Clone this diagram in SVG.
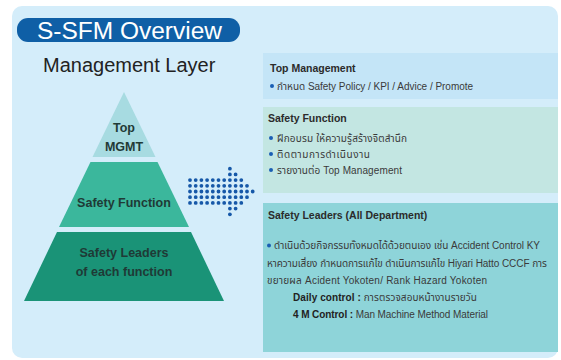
<svg xmlns="http://www.w3.org/2000/svg" width="561" height="360" viewBox="0 0 561 360">
<style>
text{font-family:"Liberation Sans","Noto Sans Thai","Noto Sans",sans-serif;}
.ttl{font-size:23px;fill:#fff;}
.sub{font-size:20px;fill:#222;}
.tier{font-size:12.5px;fill:#1f3a36;text-anchor:middle;font-weight:bold;}
.bt{font-size:10.5px;fill:#2b2b2b;font-weight:bold;}
.bd{font-size:10px;fill:#3a3a3a;}
.bl{fill:#1a5fb4;}
.dots path{stroke:#1658a8;stroke-width:3.8;stroke-linecap:round;stroke-dasharray:0 5.7;fill:none;}
</style>
<rect x="12" y="6" width="546" height="352" rx="10" fill="#d4edfa"/>
<g id="title">
<rect x="17" y="18" width="223" height="24" rx="11" fill="#0f5fa6"/>
<text class="ttl" x="37" y="38.5" textLength="185" lengthAdjust="spacingAndGlyphs">S-SFM Overview</text>
</g>
<g id="layer-label"><text class="sub" x="43" y="72">Management Layer</text></g>
<g id="tier-top">
<polygon points="124,92 155.5,157 92.5,157" fill="#a7dbe1"/>
<text class="tier" x="124" y="132">Top</text>
<text class="tier" x="124" y="151">MGMT</text>
</g>
<g id="tier-function">
<polygon points="90.5,162 157.5,162 189,227 59,227" fill="#3bb79c"/>
<text class="tier" x="124" y="207">Safety Function</text>
</g>
<g id="tier-leaders">
<polygon points="57,232 191,232 224,301 24,301" fill="#1a9377"/>
<text class="tier" x="124" y="257">Safety Leaders</text>
<text class="tier" x="124" y="276">of each function</text>
</g>
<g id="connectors" class="dots">
<path d="M229.9 168.7h0.01"/>
<path d="M229.9 174.4H235.7"/>
<path d="M190 180.1H241.4"/>
<path d="M190 185.8H247.1"/>
<path d="M190 191.5H252.8"/>
<path d="M190 197.2H247.1"/>
<path d="M190 202.9H241.4"/>
<path d="M229.9 208.6H235.7"/>
<path d="M229.9 214.3h0.01"/>
</g>
<g id="box-top">
<rect x="263" y="53" width="295" height="46" fill="#c4e5f7"/>
<text class="bt" x="270" y="72">Top Management</text>
<circle class="bl" cx="272" cy="86" r="2"/>
<text class="bd" x="277" y="89.5" textLength="196">กำหนด Safety Policy / KPI / Advice / Promote</text>
</g>
<g id="box-function">
<rect x="263" y="107" width="295" height="86" fill="#c3e6e2"/>
<text class="bt" x="268" y="122">Safety Function</text>
<circle class="bl" cx="271" cy="138" r="2"/>
<text class="bd" x="277" y="141.5" textLength="130">ฝึกอบรม ให้ความรู้สร้างจิตสำนึก</text>
<circle class="bl" cx="271" cy="154" r="2"/>
<text class="bd" x="277" y="157.5" textLength="93">ติดตามการดำเนินงาน</text>
<circle class="bl" cx="271" cy="170" r="2"/>
<text class="bd" x="277" y="173.5" textLength="125">รายงานต่อ Top Management</text>
</g>
<g id="box-leaders">
<rect x="263" y="203" width="295" height="149" fill="#8ed4d9"/>
<text class="bt" x="268" y="219">Safety Leaders (All Department)</text>
<circle class="bl" cx="269" cy="245.5" r="2"/>
<text class="bd" x="274" y="249" textLength="266">ดำเนินด้วยกิจกรรมทั้งหมดได้ด้วยตนเอง เช่น Accident Control KY</text>
<text class="bd" x="267" y="266.5" textLength="280">หาความเสี่ยง กำหนดการแก้ไข ดำเนินการแก้ไข Hiyari Hatto CCCF การ</text>
<text class="bd" x="267" y="283.5" textLength="220">ขยายผล  Acident Yokoten/ Rank Hazard Yokoten</text>
<text class="bd" x="293" y="300.5" textLength="184"><tspan font-weight="bold" fill="#222">Daily control :</tspan> การตรวจสอบหน้างานรายวัน</text>
<text class="bd" x="293" y="317.5" textLength="195"><tspan font-weight="bold" fill="#222">4 M Control :</tspan> Man Machine Method Material</text>
</g>
</svg>
